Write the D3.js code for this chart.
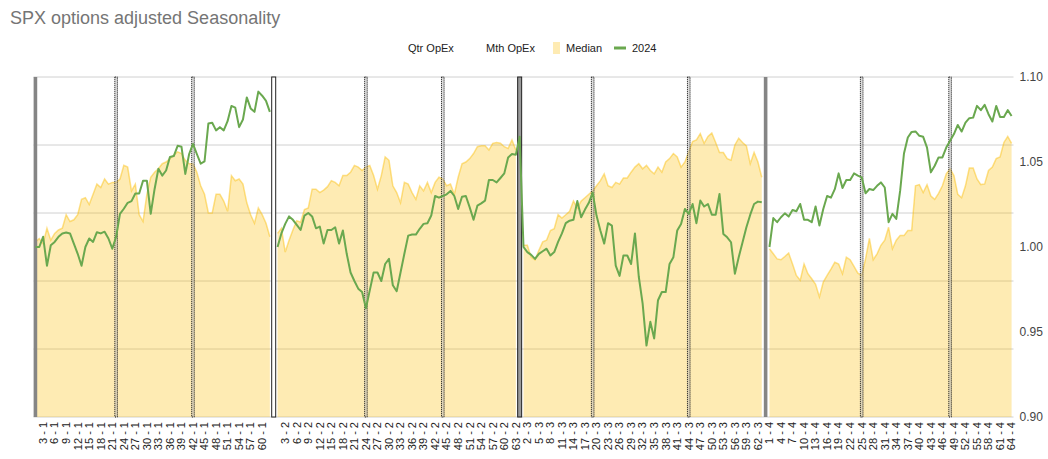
<!DOCTYPE html>
<html>
<head>
<meta charset="utf-8">
<script src="https://cdn.jsdelivr.net/npm/d3@7"></script>
<style>
  html, body { margin: 0; padding: 0; background: #fff; }
  svg { display: block; font-family: "Liberation Sans", Arial, sans-serif; }
</style>
</head>
<body>
<svg id="chart" width="1048" height="459"></svg>
<script>
// ---------------- DATA ----------------
const titleText = "SPX options adjusted Seasonality";
const seriesNames = ["Qtr OpEx", "Mth OpEx", "Median", "2024"];
const quarterDays = [62, 64, 63, 64];          // trading days per quarter
const quarterGapAfter = [true, false, true];   // blank category after quarter
const yTickLabels = [0.90, 0.95, 1.00, 1.05, 1.10];
const yGridValues = [0.90, 0.94, 0.98, 1.02, 1.06, 1.10];

const medianQ1 = [1.003,1.005,1.002,1.011,1.004,1.008,1.010,1.011,1.019,1.015,1.016,1.019,1.028,1.029,1.025,1.031,1.037,1.035,1.040,1.037,1.038,1.038,1.040,1.048,1.047,1.033,1.037,1.019,1.015,1.031,1.041,1.044,1.046,1.049,1.050,1.052,1.054,1.056,1.055,1.051,1.049,1.049,1.044,1.036,1.031,1.020,1.020,1.031,1.031,1.027,1.021,1.042,1.039,1.040,1.037,1.026,1.019,1.014,1.023,1.019,1.014,1.006];
const medianQ2 = [1.008,1.011,0.997,1.004,1.010,1.0155,1.0146,1.022,1.023,1.034,1.034,1.032,1.0335,1.0355,1.039,1.038,1.036,1.042,1.042,1.044,1.048,1.047,1.045,1.047,1.048,1.042,1.034,1.042,1.053,1.051,1.036,1.032,1.026,1.038,1.037,1.032,1.028,1.036,1.033,1.038,1.032,1.038,1.041,1.040,1.036,1.037,1.031,1.041,1.049,1.050,1.052,1.055,1.059,1.0595,1.0595,1.057,1.061,1.0615,1.061,1.059,1.058,1.063,1.057,null];
const medianQ3 = [1.001,1.001,0.994,0.9925,0.998,1.003,1.004,1.0097,1.0107,1.019,1.017,1.019,1.021,1.027,1.023,1.027,1.029,1.031,1.033,1.036,1.039,1.043,1.036,1.035,1.038,1.037,1.0406,1.0406,1.044,1.047,1.049,1.046,1.048,1.045,1.043,1.047,1.044,1.050,1.052,1.055,1.053,1.047,1.050,1.056,1.062,1.063,1.0667,1.061,1.065,1.067,1.0615,1.0556,1.0556,1.052,1.051,1.060,1.064,1.0615,1.0595,1.049,1.0556,1.050,1.041];
const medianQ4 = [0.999,0.996,0.993,0.9925,0.9944,0.9964,0.990,0.9833,0.9804,0.990,0.9843,0.9813,0.978,0.9706,0.9794,0.9833,0.987,0.991,0.990,0.9843,0.994,0.9925,0.9886,0.9846,0.9833,0.993,1.005,0.9925,0.996,1.001,1.004,1.0116,0.999,1.004,1.0067,1.0067,1.0097,1.0097,1.036,1.0367,1.032,1.0367,1.030,1.028,1.0316,1.036,1.043,1.046,1.042,1.031,1.029,1.036,1.0464,1.0464,1.040,1.0367,1.0371,1.045,1.047,1.052,1.053,1.0615,1.065,1.061];

const y2024Q1 = [1.000,1.000,1.006,0.989,1.001,1.003,1.006,1.008,1.0085,1.008,1.002,0.996,0.989,1.000,1.005,1.003,1.0087,1.008,1.009,1.005,0.999,1.006,1.0195,1.0225,1.026,1.027,1.0315,1.0315,1.039,1.039,1.0195,1.034,1.046,1.042,1.045,1.053,1.0535,1.0595,1.059,1.043,1.0547,1.0606,1.0547,1.049,1.0503,1.0726,1.0731,1.0686,1.0705,1.0686,1.074,1.083,1.082,1.0705,1.075,1.088,1.0815,1.0795,1.0914,1.089,1.086,1.0795];
const y2024Q2 = [1.000,1.008,1.0136,1.018,1.016,1.013,1.010,1.0185,1.020,1.018,1.011,1.012,1.002,1.010,1.010,1.0116,1.002,1.0097,0.996,0.985,0.980,0.9755,0.9735,0.964,0.9745,0.985,0.985,0.980,0.990,0.993,0.9775,0.974,0.985,0.996,1.0067,1.0073,1.0073,1.0107,1.0136,1.014,1.0185,1.030,1.029,1.030,1.031,1.033,1.030,1.0224,1.0296,1.030,1.0233,1.016,1.0243,1.0257,1.0273,1.0394,1.0394,1.038,1.0406,1.0433,1.0527,1.0547,1.0543,1.0648];
const y2024Q3 = [1.000,0.997,0.9954,0.993,0.996,0.9975,0.999,0.995,0.997,1.003,1.008,1.014,1.0155,1.016,1.027,1.0175,1.022,1.026,1.032,1.0185,1.0097,1.002,1.014,1.0126,0.989,0.983,0.995,0.995,0.990,1.008,0.9825,0.9667,0.942,0.956,0.9462,0.9687,0.9735,0.9735,0.990,0.994,1.0097,1.0136,1.0224,1.0195,1.0253,1.014,1.0273,1.0238,1.0253,1.019,1.019,1.0312,1.0077,1.0057,1.0028,0.9843,0.994,1.0028,1.0116,1.019,1.0253,1.0267,1.0263];
const y2024Q4 = [1.000,1.017,1.0146,1.0175,1.0198,1.0179,1.0218,1.021,1.0253,1.016,1.016,1.0146,1.0238,1.0126,1.0224,1.030,1.029,1.034,1.0433,1.0347,1.0394,1.0394,1.0433,1.042,1.041,1.0316,1.0341,1.0335,1.036,1.038,1.035,1.0146,1.0195,1.0165,1.033,1.055,1.0644,1.0677,1.068,1.0654,1.0648,1.0585,1.0439,1.0478,1.0527,1.0527,1.0585,1.0625,1.0664,1.0718,1.0679,1.0732,1.0758,1.0761,1.083,1.0805,1.0836,1.0781,1.0738,1.083,1.0765,1.0765,1.0805,1.0771];

// category indices of opex markers
const qtrOpExIdx = [0, 62, 126, 190];
const mthOpExIdx = [21, 41, 86, 106, 145, 170, 215, 238];

// ---------------- BUILD ----------------
const categories = [];
quarterDays.forEach((n, q) => {
  for (let d = 1; d <= n; d++) categories.push(d + " - " + (q + 1));
  if (q < quarterGapAfter.length && quarterGapAfter[q]) categories.push("");
});
const medianVals = [...medianQ1, null, ...medianQ2, ...medianQ3, null, ...medianQ4];
const vals2024 = [...y2024Q1, null, ...y2024Q2, ...y2024Q3, null, ...y2024Q4];
const idxs = d3.range(categories.length);

// ---------------- DRAW ----------------
const svg = d3.select("#chart");
const plot = { left: 33.5, right: 1013.5, top: 77, bottom: 417 };

const x = d3.scaleBand().domain(idxs).range([plot.left, plot.right]).padding(0);
const cx = i => x(i) + x.bandwidth() / 2;
const y = d3.scaleLinear().domain([0.90, 1.10]).range([plot.bottom, plot.top]);

// title
svg.append("text").attr("x", 10).attr("y", 24)
  .attr("font-size", 18).attr("fill", "#757575").text(titleText);

// legend
const lg = svg.append("g").attr("font-size", 11).attr("fill", "#222");
lg.append("text").attr("x", 408).attr("y", 52).text(seriesNames[0]);
lg.append("text").attr("x", 486).attr("y", 52).text(seriesNames[1]);
lg.append("rect").attr("x", 553).attr("y", 42).attr("width", 7).attr("height", 12)
  .attr("fill", "#fbbc04").attr("fill-opacity", 0.3);
lg.append("text").attr("x", 566).attr("y", 52).text(seriesNames[2]);
lg.append("line").attr("x1", 614).attr("x2", 626).attr("y1", 48).attr("y2", 48)
  .attr("stroke", "#6aa84f").attr("stroke-width", 3);
lg.append("text").attr("x", 632).attr("y", 52).text(seriesNames[3]);

// gridlines
svg.append("g").selectAll("line").data(yGridValues).join("line")
  .attr("x1", plot.left).attr("x2", plot.right)
  .attr("y1", d => y(d)).attr("y2", d => y(d))
  .attr("stroke", "#d0d0d0").attr("stroke-width", 1);

// median area
const area = d3.area()
  .defined(d => d != null)
  .x((d, i) => cx(i))
  .y0(y(0.90))
  .y1(d => y(d));
svg.append("path").datum(medianVals)
  .attr("d", area)
  .attr("fill", "#fbbc04").attr("fill-opacity", 0.3);
const medLine = d3.line().defined(d => d != null).x((d, i) => cx(i)).y(d => y(d));
svg.append("path").datum(medianVals)
  .attr("d", medLine)
  .attr("fill", "none").attr("stroke", "#fbbc04").attr("stroke-opacity", 0.45)
  .attr("stroke-width", 1.5);

// month opex markers (dotted)
svg.append("g").selectAll("rect").data(mthOpExIdx).join("rect")
  .attr("x", d => cx(d) - 1.3).attr("width", 2.6)
  .attr("y", plot.top).attr("height", plot.bottom - plot.top)
  .attr("fill", "#bbb").attr("fill-opacity", 0.5)
  .attr("stroke", "#111").attr("stroke-width", 1)
  .attr("stroke-dasharray", "1,1");

// quarter opex markers
const qg = svg.append("g");
qtrOpExIdx.forEach((d, k) => {
  const outer = (k === 0 || k === qtrOpExIdx.length - 1);
  if (outer) {
    qg.append("rect").attr("x", cx(d) - 1.8).attr("width", 3.6)
      .attr("y", plot.top).attr("height", plot.bottom - plot.top)
      .attr("fill", "#858585");
  } else {
    qg.append("rect").attr("x", cx(d) - 2).attr("width", 4)
      .attr("y", plot.top).attr("height", plot.bottom - plot.top)
      .attr("fill", k === 1 ? "#ffffff" : "#9a9a9a")
      .attr("stroke", "#222").attr("stroke-width", 1);
  }
});

// 2024 line
const line2024 = d3.line().defined(d => d != null).x((d, i) => cx(i)).y(d => y(d));
svg.append("path").datum(vals2024)
  .attr("d", line2024)
  .attr("fill", "none").attr("stroke", "#6aa84f").attr("stroke-width", 2)
  .attr("stroke-linejoin", "round");

// y axis (right)
const yAxis = d3.axisRight(y).tickValues(yTickLabels).tickFormat(d3.format(".2f"))
  .tickSize(0).tickPadding(6);
const gy = svg.append("g").attr("transform", `translate(${plot.right},0)`).call(yAxis);
gy.select(".domain").remove();
gy.selectAll("text").attr("font-size", 12).attr("fill", "#444")
  .attr("font-family", "Liberation Sans, Arial, sans-serif");

// x axis
const tickIdx = idxs.filter(i => i % 3 === 2 && categories[i] !== "");
const xAxis = d3.axisBottom(x).tickValues(tickIdx).tickFormat(i => categories[i]).tickSize(0);
const gx = svg.append("g").attr("transform", `translate(0,${plot.bottom})`).call(xAxis);
gx.select(".domain").remove();
gx.selectAll("text")
  .attr("font-size", 11).attr("fill", "#222")
  .attr("font-family", "Liberation Sans, Arial, sans-serif")
  .attr("text-anchor", "end")
  .attr("transform", "rotate(-90)")
  .attr("x", -5).attr("y", 0).attr("dy", "0.35em");
</script>
</body>
</html>
